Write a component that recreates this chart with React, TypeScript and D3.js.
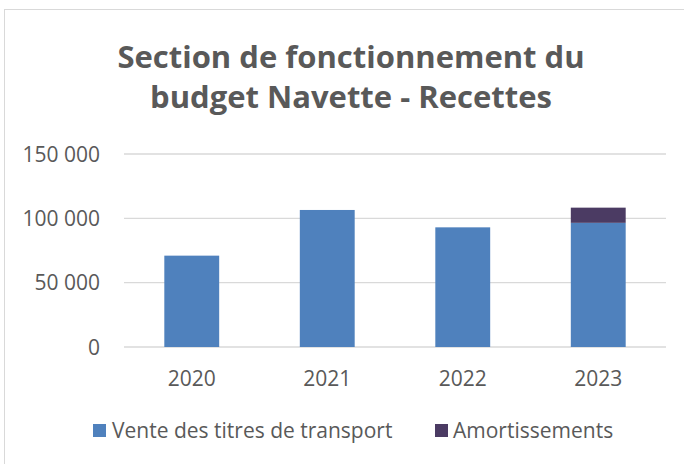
import React from "react";
import * as d3 from "d3";

const categories = ["2020", "2021", "2022", "2023"];
const venteValues = [71000, 106500, 93000, 96500];
const amortValues = [0, 0, 0, 11800];
const seriesNames = ["Vente des titres de transport", "Amortissements"];
const yTicks = [0, 50000, 100000, 150000];
const titleLines = ["Section de fonctionnement du", "budget Navette - Recettes"];

const W = 684;
const H = 464;
const colors = ["#4F81BD", "#4B3B63"];
const textColor = "#595959";
const font = "'Open Sans', 'Liberation Sans', sans-serif";

export default function App() {
  const x = d3.scaleBand<string>().domain(categories).range([124, 666]).paddingInner(0.595).paddingOuter(0.2975);
  const y = d3.scaleLinear().domain([0, 150000]).range([347, 154]);
  const fmt = (v: number) => d3.format(",")(v).replace(/,/g, " ");

  const stacked = d3.stack<any>().keys(["vente", "amort"])(
    categories.map((c, i) => ({ cat: c, vente: venteValues[i], amort: amortValues[i] }))
  );

  return (
    <div style={{ position: "absolute", left: 0, top: 0 }}>
      <svg width={W} height={H} style={{ display: "block", fontFamily: font }}>
        <rect x={0} y={0} width={W} height={H} fill="#fff" />
        <rect x={4.5} y={9.5} width={700} height={470} fill="#fff" stroke="#d9d9d9" strokeWidth={1} />
        {titleLines.map((t, i) => (
          <text key={t} x={351} y={68 + i * 40} textAnchor="middle" fontSize={31} fontWeight="bold" fill={textColor}>
            {t}
          </text>
        ))}
        {yTicks.map((t) => (
          <g key={t}>
            <line x1={124} x2={666} y1={y(t)} y2={y(t)} stroke="#d9d9d9" strokeWidth={1.3} />
            <text x={100} y={y(t) + 7.5} textAnchor="end" fontSize={21} fill={textColor}>
              {fmt(t)}
            </text>
          </g>
        ))}
        {stacked.map((s, si) => (
          <g key={si} fill={colors[si]}>
            {s.map((d: any, i: number) =>
              d[1] - d[0] > 0 ? (
                <rect key={i} x={x(categories[i])} width={x.bandwidth()} y={y(d[1])} height={y(d[0]) - y(d[1])} />
              ) : null
            )}
          </g>
        ))}
        {categories.map((c) => (
          <text key={c} x={(x(c) as number) + x.bandwidth() / 2} y={386} textAnchor="middle" fontSize={21} fill={textColor}>
            {c}
          </text>
        ))}
        <g>
          <rect x={93} y={424} width={13} height={13} fill={colors[0]} />
          <text x={112} y={438} fontSize={21} fill={textColor}>{seriesNames[0]}</text>
          <rect x={435} y={424} width={13} height={13} fill={colors[1]} />
          <text x={453} y={438} fontSize={21} fill={textColor}>{seriesNames[1]}</text>
        </g>
      </svg>
    </div>
  );
}
